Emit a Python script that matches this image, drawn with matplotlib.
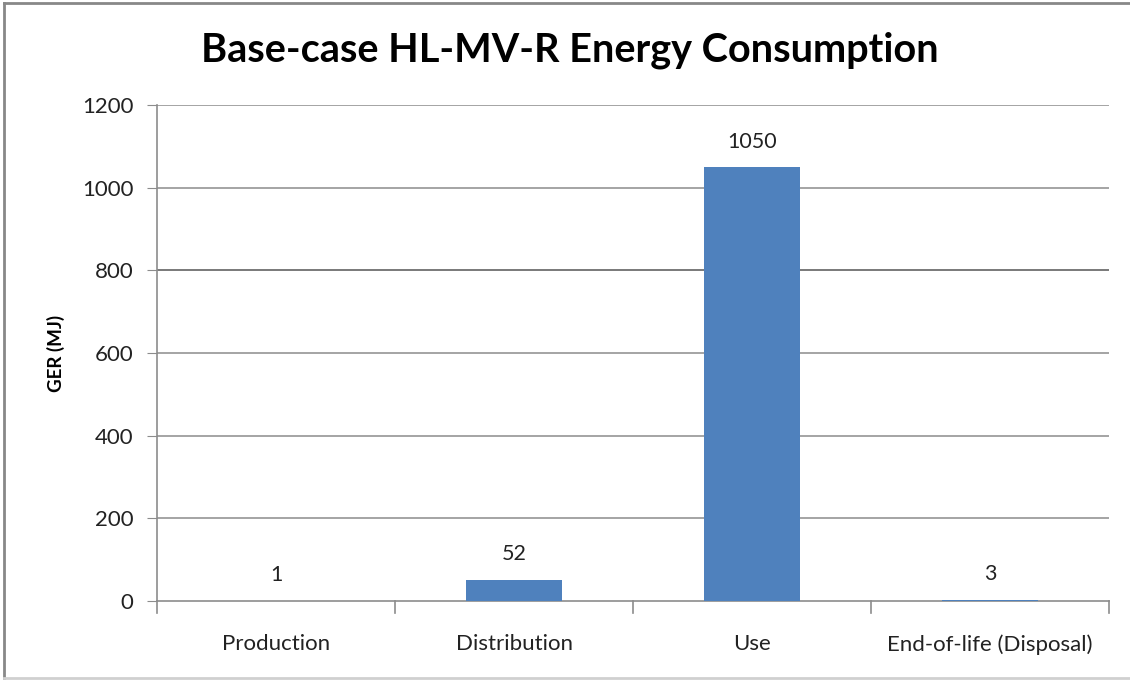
import matplotlib.pyplot as plt
from matplotlib.lines import Line2D

categories = ['Production', 'Distribution', 'Use', 'End-of-life (Disposal)']
values = [1, 52, 1050, 3]
yticks = [0, 200, 400, 600, 800, 1000, 1200]

plt.rcParams['font.family'] = ['Lato', 'DejaVu Sans']


def main():
    fig = plt.figure(figsize=(11.3, 6.81), dpi=100)
    ax = fig.add_axes([157 / 1130, 1 - 601 / 681, (1109 - 157) / 1130, (601 - 105) / 681])

    x = list(range(len(categories)))
    ax.bar(x, values, width=0.4, color='#4f81bd', zorder=3)
    for xi, v in zip(x, values):
        ax.annotate(str(v), (xi, v), xytext=(0, 11), textcoords='offset points',
                    ha='center', va='bottom', fontsize=15.5, color='#222222')

    ax.set_xlim(-0.5, len(categories) - 0.5)
    ax.set_ylim(0, 1200)
    ax.set_yticks(yticks)
    ax.set_yticklabels([str(t) for t in yticks], fontsize=16, color='#222222')
    ax.set_xticks(x)
    ax.set_xticklabels(categories, fontsize=16, color='#222222')
    ax.tick_params(axis='x', length=0, pad=24)
    ax.tick_params(axis='y', length=7, color='#8c8c8c', pad=10)

    # category separator ticks below the axis
    for b in [i - 0.5 for i in range(len(categories) + 1)]:
        ax.plot([b, b], [0, -0.024 * 1200], color='#8c8c8c', lw=1.2, clip_on=False, zorder=4)

    for t in yticks[1:]:
        ax.axhline(t, color='#555555' if t == 800 else '#8c8c8c', lw=1.1, zorder=1)

    for s in ['top', 'right']:
        ax.spines[s].set_visible(False)
    ax.spines['left'].set_color('#8c8c8c')
    ax.spines['bottom'].set_color('#8c8c8c')
    ax.spines['left'].set_linewidth(1.2)
    ax.spines['bottom'].set_linewidth(1.2)

    ax.set_ylabel('GER (MJ)', fontsize=13.5, fontweight='bold', labelpad=12)
    fig.text(570 / 1130, 1 - 50 / 681, 'Base-case HL-MV-R Energy Consumption',
             ha='center', va='center', fontsize=28.5, fontweight='bold')

    # outer chart border
    fig.add_artist(Line2D([4 / 1130, 4 / 1130], [1 - 678 / 681, 1 - 3 / 681],
                          transform=fig.transFigure, color='#888888', lw=2))
    fig.add_artist(Line2D([4 / 1130, 1], [1 - 3 / 681, 1 - 3 / 681],
                          transform=fig.transFigure, color='#888888', lw=2))
    fig.add_artist(Line2D([4 / 1130, 1], [1 - 678 / 681, 1 - 678 / 681],
                          transform=fig.transFigure, color='#d0d0d0', lw=2))

    plt.savefig('out.png', dpi=100)


if __name__ == '__main__':
    main()
